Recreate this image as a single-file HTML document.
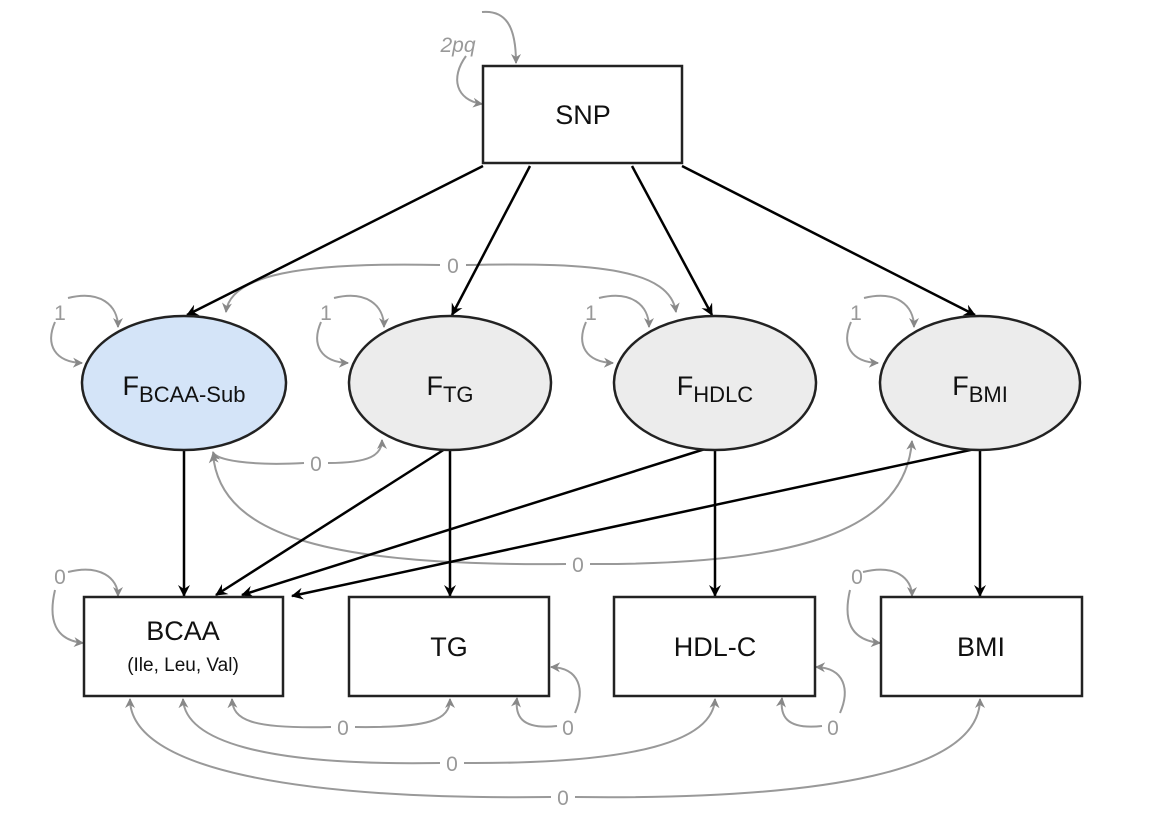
<!DOCTYPE html>
<html><head><meta charset="utf-8"><style>
body{margin:0;background:#fff;}
svg{display:block;font-family:"Liberation Sans",sans-serif;}
</style></head><body>
<svg width="1158" height="832" viewBox="0 0 1158 832">
<defs>
<marker id="ab" markerWidth="12" markerHeight="12" refX="11" refY="6" orient="auto" markerUnits="userSpaceOnUse"><path d="M0,0 L12,6 L0,12 L4,6 Z" fill="#000"/></marker>
<marker id="ag" markerWidth="10" markerHeight="10" refX="9" refY="5" orient="auto" markerUnits="userSpaceOnUse"><path d="M0,0 L10,5 L0,10 L3,5 Z" fill="#888"/></marker>
</defs>
<g fill="none" stroke="#999" stroke-width="2" marker-end="url(#ag)">
<!-- SNP self loop -->
<path d="M482,12 C505,10 516,25 516,63"/>
<path d="M466,56 C450,78 456,100 482,104"/>
<!-- ellipse self loops -->
<path d="M68,298 C100,290 118,305 118,327"/><path d="M55,322 C45,345 55,362 82,363"/>
<path d="M334,298 C366,290 384,305 384,327"/><path d="M321,322 C311,345 321,362 348,363"/>
<path d="M599,298 C631,290 649,305 649,327"/><path d="M586,322 C576,345 586,362 613,363"/>
<path d="M864,298 C896,290 914,305 914,327"/><path d="M851,322 C841,345 851,362 878,363"/>
<!-- box self loops -->
<path d="M68,572 C100,564 118,578 118,596"/><path d="M55,590 C48,620 55,640 83,643"/>
<path d="M863,572 C895,564 912,578 912,596"/><path d="M850,590 C843,620 850,640 880,643"/>
<path d="M557,726 C520,730 515,715 517,698"/><path d="M575,713 C585,690 580,668 551,667"/>
<path d="M822,726 C785,730 780,715 782,698"/><path d="M840,713 C850,690 845,668 816,667"/>
<!-- covariances -->
<path d="M440,265 C300,262 230,275 226,312"/><path d="M466,265 C600,262 670,270 676,312"/>
<path d="M304,463 C250,466 215,460 213,452"/><path d="M328,463 C370,463 382,455 382,440"/>
<path d="M566,564 C340,566 220,540 213,454"/><path d="M590,564 C800,565 905,530 912,441"/>
<path d="M331,727 C250,729 233,720 232,699"/><path d="M355,727 C430,728 450,720 450,699"/>
<path d="M440,763 C260,766 185,740 183,699"/><path d="M464,763 C640,764 713,740 715,699"/>
<path d="M551,797 C300,800 130,770 130,699"/><path d="M575,797 C830,800 980,770 980,699"/>
</g>
<g fill="#999" font-size="21" text-anchor="middle">
<text x="458" y="52" font-style="italic">2pq</text>
<text x="60" y="320">1</text><text x="326" y="320">1</text><text x="591" y="320">1</text><text x="856" y="320">1</text>
<text x="453" y="273">0</text><text x="316" y="471">0</text><text x="578" y="572">0</text>
<text x="60" y="584">0</text><text x="857" y="584">0</text>
<text x="343" y="735">0</text><text x="568" y="735">0</text><text x="833" y="735">0</text>
<text x="452" y="771">0</text><text x="563" y="805">0</text>
</g>
<g stroke="#000" stroke-width="2.5" fill="none" marker-end="url(#ab)">
<path d="M483,166 L187,315"/>
<path d="M530,166 L452,315"/>
<path d="M632,166 L712,315"/>
<path d="M682,166 L975,315"/>
<path d="M184,450 L184,596"/>
<path d="M450,450 L450,596"/>
<path d="M715,450 L715,596"/>
<path d="M980,450 L980,596"/>
<path d="M445,449 L216,595"/>
<path d="M705,449 L242,595"/>
<path d="M975,449 L292,596"/>
</g>
<g stroke="#222" stroke-width="2.5">
<rect x="483" y="66" width="199" height="97" fill="#fff"/>
<ellipse cx="184" cy="383" rx="102" ry="67" fill="#d4e4f8"/>
<ellipse cx="450" cy="383" rx="101" ry="67" fill="#ececec"/>
<ellipse cx="715" cy="383" rx="101" ry="67" fill="#ececec"/>
<ellipse cx="980" cy="383" rx="100" ry="67" fill="#ececec"/>
<rect x="84" y="597" width="199" height="99" fill="#fff"/>
<rect x="349" y="597" width="200" height="99" fill="#fff"/>
<rect x="614" y="597" width="201" height="99" fill="#fff"/>
<rect x="881" y="597" width="201" height="99" fill="#fff"/>
</g>
<g fill="#111" font-size="27" text-anchor="middle">
<text x="583" y="124">SNP</text>
<text x="184" y="395">F<tspan font-size="22" dy="7">BCAA-Sub</tspan></text>
<text x="450" y="395">F<tspan font-size="22" dy="7">TG</tspan></text>
<text x="715" y="395">F<tspan font-size="22" dy="7">HDLC</tspan></text>
<text x="980" y="395">F<tspan font-size="22" dy="7">BMI</tspan></text>
<text x="183" y="640">BCAA</text>
<text x="183" y="671" font-size="19">(Ile, Leu, Val)</text>
<text x="449" y="656">TG</text>
<text x="715" y="656">HDL-C</text>
<text x="981" y="656">BMI</text>
</g>
</svg>
</body></html>
